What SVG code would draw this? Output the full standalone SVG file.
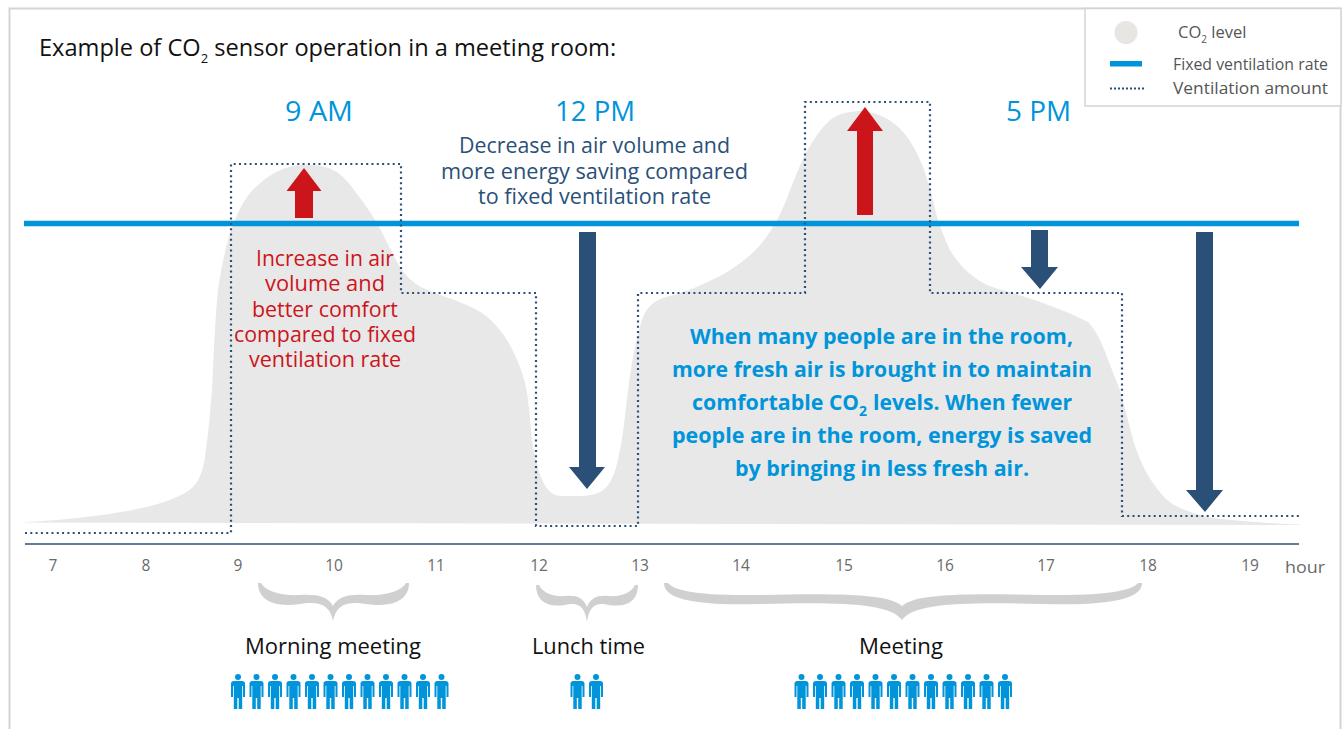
<svg xmlns="http://www.w3.org/2000/svg" width="1343" height="729" viewBox="0 0 1343 729">
<style>
text{font-family:"Open Sans","Noto Sans","Liberation Sans",sans-serif}
.mid{text-anchor:middle}
.time{font-size:28px;fill:#0095da}
.navy{font-size:22px;fill:#2a5078}
.red{font-size:22px;fill:#cc151b}
.bold{font-size:22px;font-weight:700;fill:#0095da}
.tick{font-size:15.5px;fill:#6a6a6a}
.lab{font-size:22px;fill:#111}
.leg{font-size:16.5px;fill:#555}
.brace{fill:#d0d0d0}
.person{fill:#0095da}
.up{fill:#cc151b}
.down{fill:#2a5078}
.dots{fill:none;stroke:#2a5078;stroke-width:2.2;stroke-dasharray:2 3.3}
</style>
<defs>
<g id="p">
<circle cx="0" cy="3" r="3"/>
<path d="M-7,9.5 Q-7,7 -4,7 H4 Q7,7 7,9.5 V23 H5 V12 H4.2 V35 H0.7 V24 H-0.7 V35 H-4.2 V12 H-5 V23 H-7 Z"/>
</g>
</defs>
<rect width="1343" height="729" fill="#fff"/>
<path d="M9.5,729 V8.5 H1340.5 V729" fill="none" stroke="#d4d4d4" stroke-width="2"/>

<g id="co2-curve">
<path fill="#e8e8e8" d="M25,522 C70,520 130,513 161,503 C175,498 186,494 193,487 C201,479 204,465 205,457 C209,430 210,410 212,390 C214,350 215,320 218,290 C221,270 225,250 229,237 C233,224 238,212 243,203 C250,192 258,184 268,177 C278,170 289,166 300,165 C310,164 320,165 329,168 C339,172 347,180 354,190 C363,202 371,212 379,227 C386,240 393,255 400,267 C405,275 412,282 421,287 C429,291 437,294 446,297 C458,301 471,306 482,313 C491,319 500,329 507,340 C515,353 521,368 525,383 C529,400 530,420 532,440 C535,460 540,478 546,487 C550,493 555,496 562,496 C575,496 590,497 600,492 C612,486 616,470 620,450 C624,430 626,405 629,383 C632,360 637,335 643,317 C648,305 656,300 666,297 C682,293 698,287 712,280 C725,274 737,266 748,257 C757,249 765,240 771,230 C779,218 785,204 790,190 C795,178 799,167 804,157 C810,145 818,132 827,123 C834,116 842,113 850,112 C855,111 858,111 862,111 C877,112 893,120 904,133 C913,144 918,155 923,167 C929,183 933,200 937,217 C941,229 945,240 950,250 C955,259 962,267 969,273 C975,278 981,282 987,285 C994,288 1002,290 1010,292 C1035,300 1065,310 1088,322 C1096,330 1102,343 1107,357 C1112,370 1116,380 1120,390 C1125,408 1129,425 1134,443 C1139,458 1145,472 1153,483 C1158,490 1164,498 1171,503 C1182,510 1195,514 1208,517 C1225,520 1260,523 1300,524.5 L1300,525 L25,522.5 Z"/>
</g>

<g id="connectors">
<path id="fixed-rate" d="M24,223.5 H1299" stroke="#0095da" stroke-width="5.5" fill="none"/>
<path id="ventilation" class="dots" d="M25,533 H231 V164 H401 V293 H536 V526 H638 V293 H805 V102 H930 V293 H1122 V516 H1300"/>
<path id="axis" d="M25,544 H1299" stroke="#2a5078" stroke-width="1.5" fill="none"/>
<path class="up" d="M304,168 L321.5,191 H313 V218 H295 V191 H286.5 Z"/>
<path class="up" d="M865,107 L883,131 H873 V215 H857 V131 H847 Z"/>
<path class="down" d="M579,232 H596 V467 H605 L587,489 L569,467 H579 Z"/>
<path class="down" d="M1031,230 H1048 V267 H1058 L1040,289 L1021,267 H1031 Z"/>
<path class="down" d="M1196,232 H1213 V490 H1223 L1205,512 L1186,490 H1196 Z"/>
</g>

<g id="title">
<text x="39" y="56" font-size="23.6" fill="#111">Example of CO<tspan font-size="13" dy="7">2</tspan><tspan dy="-7"> sensor operation in a meeting room:</tspan></text>
</g>

<g id="legend">
<rect x="1085" y="8.5" width="256" height="97.5" fill="#fff" stroke="#d4d4d4" stroke-width="1.5"/>
<circle cx="1126" cy="32.5" r="11.5" fill="#e8e6e3"/>
<rect x="1110" y="61" width="32" height="5.5" fill="#0095da"/>
<path class="dots" style="stroke-dasharray:2 2" d="M1110,88.5 H1145"/>
<text class="leg" x="1178" y="38" font-size="16">CO<tspan font-size="10" dy="5">2</tspan><tspan dy="-5"> level</tspan></text>
<text class="leg" x="1173" y="70" textLength="155" lengthAdjust="spacingAndGlyphs">Fixed ventilation rate</text>
<text class="leg" x="1173" y="94" textLength="155" lengthAdjust="spacingAndGlyphs">Ventilation amount</text>
</g>

<g id="time-labels">
<text class="time mid" x="319" y="121" textLength="68" lengthAdjust="spacingAndGlyphs">9 AM</text>
<text class="time mid" x="595" y="121" textLength="80" lengthAdjust="spacingAndGlyphs">12 PM</text>
<text class="time mid" x="1038.5" y="121" textLength="65" lengthAdjust="spacingAndGlyphs">5 PM</text>
</g>

<g id="decrease-note">
<text class="navy mid" x="594.5" y="153" textLength="271" lengthAdjust="spacingAndGlyphs">Decrease in air volume and</text>
<text class="navy mid" x="594.5" y="179" textLength="307" lengthAdjust="spacingAndGlyphs">more energy saving compared</text>
<text class="navy mid" x="594.5" y="204" textLength="233" lengthAdjust="spacingAndGlyphs">to fixed ventilation rate</text>
</g>

<g id="increase-note">
<text class="red mid" x="325" y="266" textLength="138" lengthAdjust="spacingAndGlyphs">Increase in air</text>
<text class="red mid" x="325" y="291" textLength="120" lengthAdjust="spacingAndGlyphs">volume and</text>
<text class="red mid" x="325" y="317" textLength="146" lengthAdjust="spacingAndGlyphs">better comfort</text>
<text class="red mid" x="325" y="342" textLength="182" lengthAdjust="spacingAndGlyphs">compared to fixed</text>
<text class="red mid" x="325" y="367" textLength="152" lengthAdjust="spacingAndGlyphs">ventilation rate</text>
</g>

<g id="people-note">
<text class="bold mid" x="881.5" y="344" textLength="383" lengthAdjust="spacingAndGlyphs">When many people are in the room,</text>
<text class="bold mid" x="882" y="377" textLength="420" lengthAdjust="spacingAndGlyphs">more fresh air is brought in to maintain</text>
<text class="bold" x="692" y="410"><tspan textLength="137" lengthAdjust="spacingAndGlyphs">comfortable </tspan><tspan textLength="30" lengthAdjust="spacingAndGlyphs">CO</tspan><tspan font-size="14" dy="6">2</tspan><tspan x="873" dy="-6" textLength="199" lengthAdjust="spacingAndGlyphs">levels. When fewer</tspan></text>
<text class="bold mid" x="882" y="443" textLength="420" lengthAdjust="spacingAndGlyphs">people are in the room, energy is saved</text>
<text class="bold mid" x="882" y="476" textLength="294" lengthAdjust="spacingAndGlyphs">by bringing in less fresh air.</text>
</g>

<g id="hour-axis">
<text class="tick mid" x="53" y="571">7</text>
<text class="tick mid" x="146" y="571">8</text>
<text class="tick mid" x="238" y="571">9</text>
<text class="tick mid" x="334" y="571">10</text>
<text class="tick mid" x="436" y="571">11</text>
<text class="tick mid" x="539" y="571">12</text>
<text class="tick mid" x="640" y="571">13</text>
<text class="tick mid" x="741" y="571">14</text>
<text class="tick mid" x="844" y="571">15</text>
<text class="tick mid" x="945" y="571">16</text>
<text class="tick mid" x="1046" y="571">17</text>
<text class="tick mid" x="1148" y="571">18</text>
<text class="tick mid" x="1250" y="571">19</text>
<text class="tick mid" x="1305" y="573" style="font-size:17px" textLength="40" lengthAdjust="spacingAndGlyphs">hour</text>
</g>

<g id="morning-meeting">
<path class="brace" d="M258,583 C258,599 272,608 300,604 C320,601 330,605 333,621 C336,605 346,601 366,604 C395,608 409,599 409,583 H406 C402,591 385,596 366,595 C350,594 338,596 333,606 C328,596 316,594 300,595 C281,596 265,591 261,583 Z"/>
<text class="lab mid" x="333" y="654" textLength="176" lengthAdjust="spacingAndGlyphs">Morning meeting</text>
<g class="person">
<use href="#p" x="238" y="674"/><use href="#p" x="256.5" y="674"/><use href="#p" x="275" y="674"/><use href="#p" x="293.5" y="674"/><use href="#p" x="312" y="674"/><use href="#p" x="330.5" y="674"/><use href="#p" x="349" y="674"/><use href="#p" x="367.5" y="674"/><use href="#p" x="386" y="674"/><use href="#p" x="404.5" y="674"/><use href="#p" x="423" y="674"/><use href="#p" x="441.5" y="674"/>
</g>
</g>

<g id="lunch-time">
<path class="brace" d="M536,585 C536,600 546,608 565,605 C578,602 585,606 587,622 C589,606 596,602 609,605 C628,608 638,600 638,585 H635 C632,592 622,597 609,596 C598,595 591,597 587,607 C583,597 576,595 565,596 C552,597 542,592 539,585 Z"/>
<text class="lab mid" x="588.5" y="654" textLength="113" lengthAdjust="spacingAndGlyphs">Lunch time</text>
<g class="person">
<use href="#p" x="577.5" y="674"/><use href="#p" x="596" y="674"/>
</g>
</g>

<g id="meeting">
<path class="brace" d="M664,583 C664,598 690,606 760,604 C840,602 890,603 902,620 C914,603 964,602 1044,604 C1114,606 1142,598 1142,583 H1138 C1132,590 1110,596 1044,595 C964,593 914,594 902,606 C890,594 840,593 760,595 C694,596 674,590 668,583 Z"/>
<text class="lab mid" x="901" y="654" textLength="84" lengthAdjust="spacingAndGlyphs">Meeting</text>
<g class="person">
<use href="#p" x="801.5" y="674"/><use href="#p" x="820" y="674"/><use href="#p" x="838.5" y="674"/><use href="#p" x="857" y="674"/><use href="#p" x="875.5" y="674"/><use href="#p" x="894" y="674"/><use href="#p" x="912.5" y="674"/><use href="#p" x="931" y="674"/><use href="#p" x="949.5" y="674"/><use href="#p" x="968" y="674"/><use href="#p" x="986.5" y="674"/><use href="#p" x="1005" y="674"/>
</g>
</g>
</svg>
